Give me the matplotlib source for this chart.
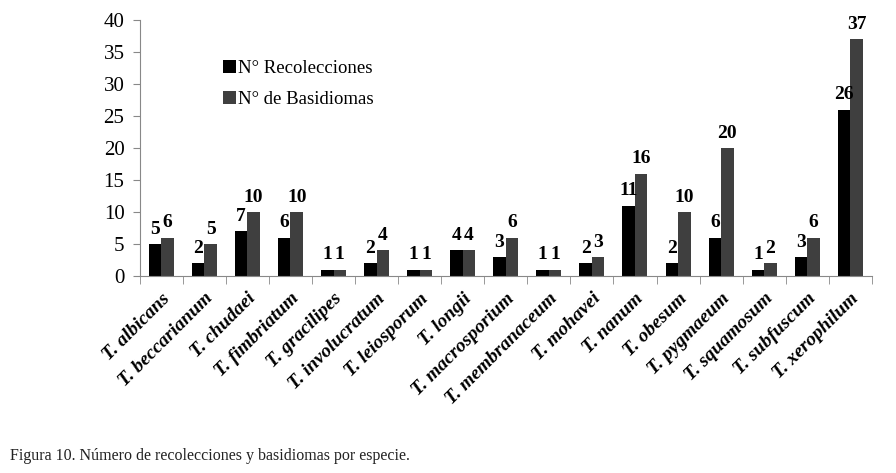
import numpy as np
import matplotlib.pyplot as plt

species = ["T. albicans", "T. beccarianum", "T. chudaei", "T. fimbriatum",
           "T. gracilipes", "T. involucratum", "T. leiosporum", "T. longii",
           "T. macrosporium", "T. membranaceum", "T. mohavei", "T. nanum",
           "T. obesum", "T. pygmaeum", "T. squamosum", "T. subfuscum",
           "T. xerophilum"]
recolecciones = [5, 2, 7, 6, 1, 2, 1, 4, 3, 1, 2, 11, 2, 6, 1, 3, 26]
basidiomas = [6, 5, 10, 10, 1, 4, 1, 4, 6, 1, 3, 16, 10, 20, 2, 6, 37]

plt.rcParams['font.family'] = ['Liberation Serif', 'DejaVu Serif']

fig = plt.figure(figsize=(8.96, 4.73), dpi=100)
ax = fig.add_axes([0.156, 0.4165, 0.817, 0.5415])

x = np.arange(len(species))
w = 0.29
b1 = ax.bar(x - w / 2, recolecciones, w, color="#000000", label="N° Recolecciones")
b2 = ax.bar(x + w / 2, basidiomas, w, color="#3f3f3f", label="N° de Basidiomas")

for bars in (b1, b2):
    for rect in bars:
        h = rect.get_height()
        ax.annotate(f"{int(h)}", (rect.get_x() + rect.get_width() / 2, h),
                    xytext=(0, 4.5), textcoords="offset points",
                    ha="center", va="bottom", fontsize=14, fontweight="bold")

ax.set_xlim(-0.5, len(species) - 0.5)
ax.set_ylim(0, 40)
ax.set_yticks(range(0, 41, 5))
ax.tick_params(axis="y", labelsize=15, length=5, color="#888888", pad=6)

ax.set_xticks(x)
ax.set_xticklabels(species, rotation=45, ha="right", rotation_mode="anchor",
                   fontsize=14, fontstyle="italic", fontweight="bold")
ax.tick_params(axis="x", which="major", length=0, pad=10)
ax.set_xticks(np.arange(-0.5, len(species), 1), minor=True)
ax.tick_params(axis="x", which="minor", length=6, color="#888888")

for s in ("top", "right"):
    ax.spines[s].set_visible(False)
for s in ("left", "bottom"):
    ax.spines[s].set_color("#888888")

ax.legend(loc="upper left", bbox_to_anchor=(0.09, 0.91), frameon=False,
          fontsize=13.5, handlelength=0.7, handleheight=0.7,
          handletextpad=0.15, labelspacing=0.75)

fig.text(0.011, 0.027, "Figura 10. Número de recolecciones y basidiomas por especie.",
         fontsize=11.5, color="#222222")

fig.savefig("out.png", dpi=100)
